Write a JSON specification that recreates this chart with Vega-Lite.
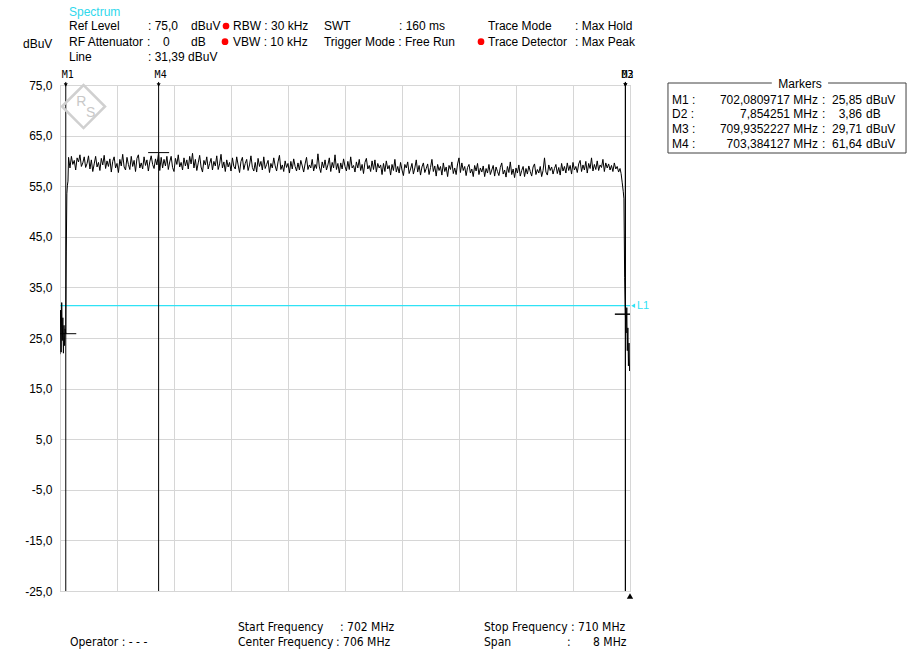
{
  "$schema": "https://vega.github.io/schema/vega-lite/v6.json",
  "width": 570,
  "height": 506,
  "autosize": "none",
  "padding": {"left": 60, "top": 85, "right": 277, "bottom": 59},
  "background": "white",
  "config": {
    "font": "Liberation Sans",
    "view": {"stroke": "#b4b4b4", "strokeWidth": 1},
    "text": {"font": "Liberation Sans", "fontSize": 12, "color": "black", "baseline": "middle"}
  },
  "datasets": {
    "trace": [
      {"f":702.000,"d":21.8},{"f":702.008,"d":30.5},{"f":702.016,"d":22.2},{"f":702.024,"d":32.0},{"f":702.032,"d":24.5},
      {"f":702.040,"d":29.0},{"f":702.048,"d":22.0},{"f":702.056,"d":27.5},{"f":702.064,"d":23.5},{"f":702.072,"d":26.8},
      {"f":702.081,"d":25.85},{"f":702.088,"d":42.0},{"f":702.096,"d":53.5},{"f":702.104,"d":55.2},{"f":702.112,"d":56.0},
      {"f":702.120,"d":60.7},
      {"f":702.14,"d":58.6},{"f":702.16,"d":60.9},{"f":702.18,"d":59.3},{"f":702.20,"d":60.1},{"f":702.22,"d":58.2},{"f":702.24,"d":60.6},{"f":702.26,"d":59.8},{"f":702.28,"d":61.2},{"f":702.30,"d":58.9},{"f":702.32,"d":59.6},
      {"f":702.34,"d":60.8},{"f":702.36,"d":58.7},{"f":702.38,"d":59.5},{"f":702.40,"d":61.0},{"f":702.42,"d":58.4},{"f":702.44,"d":60.2},{"f":702.46,"d":57.9},{"f":702.48,"d":59.4},{"f":702.50,"d":60.9},{"f":702.52,"d":58.8},
      {"f":702.54,"d":59.7},{"f":702.56,"d":58.1},{"f":702.58,"d":60.5},{"f":702.60,"d":59.2},{"f":702.62,"d":61.1},{"f":702.64,"d":58.5},{"f":702.66,"d":60.0},{"f":702.68,"d":58.9},{"f":702.70,"d":60.4},{"f":702.72,"d":57.8},
      {"f":702.74,"d":59.9},{"f":702.76,"d":60.8},{"f":702.78,"d":58.6},{"f":702.80,"d":59.5},{"f":702.82,"d":57.7},{"f":702.84,"d":60.3},{"f":702.86,"d":59.0},{"f":702.88,"d":61.3},{"f":702.90,"d":58.8},{"f":702.92,"d":58.2},
      {"f":702.94,"d":60.7},{"f":702.96,"d":59.3},{"f":702.98,"d":58.3},{"f":703.00,"d":60.9},{"f":703.02,"d":58.9},{"f":703.04,"d":60.1},{"f":703.06,"d":57.9},{"f":703.08,"d":60.5},{"f":703.10,"d":61.2},{"f":703.12,"d":58.6},
      {"f":703.14,"d":59.6},{"f":703.16,"d":58.4},{"f":703.18,"d":60.8},{"f":703.20,"d":59.1},{"f":703.22,"d":60.2},{"f":703.24,"d":58.0},{"f":703.26,"d":59.8},{"f":703.28,"d":61.0},{"f":703.30,"d":59.3},{"f":703.32,"d":58.5},
      {"f":703.34,"d":60.4},{"f":703.36,"d":59.2},{"f":703.384,"d":61.64},{"f":703.40,"d":58.1},{"f":703.42,"d":60.7},{"f":703.44,"d":58.6},{"f":703.46,"d":60.3},{"f":703.48,"d":59.0},{"f":703.50,"d":60.9},{"f":703.52,"d":58.3},
      {"f":703.54,"d":59.8},{"f":703.56,"d":60.9},{"f":703.58,"d":58.7},{"f":703.60,"d":57.9},{"f":703.62,"d":60.5},{"f":703.64,"d":59.3},{"f":703.66,"d":61.2},{"f":703.68,"d":58.8},{"f":703.70,"d":59.7},{"f":703.72,"d":58.2},
      {"f":703.74,"d":60.6},{"f":703.76,"d":59.0},{"f":703.78,"d":60.2},{"f":703.80,"d":58.4},{"f":703.82,"d":60.9},{"f":703.84,"d":59.4},{"f":703.86,"d":61.5},{"f":703.88,"d":58.6},{"f":703.90,"d":60.3},{"f":703.92,"d":58.1},
      {"f":703.94,"d":59.6},{"f":703.96,"d":61.1},{"f":703.98,"d":58.8},{"f":704.00,"d":57.8},{"f":704.02,"d":60.1},{"f":704.04,"d":59.2},{"f":704.06,"d":60.8},{"f":704.08,"d":58.4},{"f":704.10,"d":59.5},{"f":704.12,"d":60.5},
      {"f":704.14,"d":58.2},{"f":704.16,"d":59.9},{"f":704.18,"d":59.0},{"f":704.20,"d":61.0},{"f":704.22,"d":58.3},{"f":704.24,"d":59.4},{"f":704.26,"d":61.3},{"f":704.28,"d":58.6},{"f":704.30,"d":59.8},{"f":704.32,"d":57.9},
      {"f":704.34,"d":60.2},{"f":704.36,"d":58.8},{"f":704.38,"d":59.7},{"f":704.40,"d":58.0},{"f":704.42,"d":60.6},{"f":704.44,"d":58.9},{"f":704.46,"d":58.4},{"f":704.48,"d":60.8},{"f":704.50,"d":59.2},{"f":704.52,"d":57.7},
      {"f":704.54,"d":59.9},{"f":704.56,"d":60.7},{"f":704.58,"d":58.3},{"f":704.60,"d":59.5},{"f":704.62,"d":60.3},{"f":704.64,"d":58.1},{"f":704.66,"d":59.2},{"f":704.68,"d":61.0},{"f":704.70,"d":58.7},{"f":704.72,"d":58.0},
      {"f":704.74,"d":59.7},{"f":704.76,"d":57.8},{"f":704.78,"d":60.5},{"f":704.80,"d":58.9},{"f":704.82,"d":59.9},{"f":704.84,"d":58.2},{"f":704.86,"d":60.8},{"f":704.88,"d":58.5},{"f":704.90,"d":59.3},{"f":704.92,"d":60.1},
      {"f":704.94,"d":57.7},{"f":704.96,"d":59.5},{"f":704.98,"d":58.6},{"f":705.00,"d":60.6},{"f":705.02,"d":59.0},{"f":705.04,"d":58.0},{"f":705.06,"d":59.8},{"f":705.08,"d":61.1},{"f":705.10,"d":58.3},{"f":705.12,"d":59.2},
      {"f":705.14,"d":57.9},{"f":705.16,"d":60.0},{"f":705.18,"d":58.7},{"f":705.20,"d":59.5},{"f":705.22,"d":57.6},{"f":705.24,"d":59.9},{"f":705.26,"d":58.4},{"f":705.28,"d":60.4},{"f":705.30,"d":58.9},{"f":705.32,"d":58.0},
      {"f":705.34,"d":59.6},{"f":705.36,"d":58.2},{"f":705.38,"d":60.1},{"f":705.40,"d":59.0},{"f":705.42,"d":57.8},{"f":705.44,"d":59.4},{"f":705.46,"d":60.7},{"f":705.48,"d":58.3},{"f":705.50,"d":59.2},{"f":705.52,"d":58.6},
      {"f":705.54,"d":60.3},{"f":705.56,"d":58.0},{"f":705.58,"d":59.3},{"f":705.60,"d":58.5},{"f":705.62,"d":61.4},{"f":705.64,"d":58.8},{"f":705.66,"d":57.7},{"f":705.68,"d":59.8},{"f":705.70,"d":58.6},{"f":705.72,"d":60.2},
      {"f":705.74,"d":58.2},{"f":705.76,"d":59.2},{"f":705.78,"d":60.6},{"f":705.80,"d":57.9},{"f":705.82,"d":59.7},{"f":705.84,"d":58.6},{"f":705.86,"d":61.2},{"f":705.88,"d":58.3},{"f":705.90,"d":59.5},{"f":705.92,"d":57.6},
      {"f":705.94,"d":59.6},{"f":705.96,"d":58.4},{"f":705.98,"d":60.4},{"f":706.00,"d":58.9},{"f":706.02,"d":58.0},{"f":706.04,"d":59.9},{"f":706.06,"d":58.3},{"f":706.08,"d":60.8},{"f":706.10,"d":58.6},{"f":706.12,"d":59.1},
      {"f":706.14,"d":57.8},{"f":706.16,"d":59.8},{"f":706.18,"d":58.6},{"f":706.20,"d":60.3},{"f":706.22,"d":58.1},{"f":706.24,"d":59.3},{"f":706.26,"d":57.5},{"f":706.28,"d":59.7},{"f":706.30,"d":60.5},{"f":706.32,"d":58.4},
      {"f":706.34,"d":59.1},{"f":706.36,"d":57.9},{"f":706.38,"d":60.0},{"f":706.40,"d":58.3},{"f":706.42,"d":60.2},{"f":706.44,"d":57.8},{"f":706.46,"d":59.5},{"f":706.48,"d":58.6},{"f":706.50,"d":59.2},{"f":706.52,"d":57.3},
      {"f":706.54,"d":59.5},{"f":706.56,"d":57.9},{"f":706.58,"d":60.0},{"f":706.60,"d":58.4},{"f":706.62,"d":59.1},{"f":706.64,"d":57.2},{"f":706.66,"d":59.3},{"f":706.68,"d":58.1},{"f":706.70,"d":60.3},{"f":706.72,"d":57.8},
      {"f":706.74,"d":58.9},{"f":706.76,"d":57.6},{"f":706.78,"d":59.7},{"f":706.80,"d":58.2},{"f":706.82,"d":57.1},{"f":706.84,"d":59.3},{"f":706.86,"d":58.6},{"f":706.88,"d":59.8},{"f":706.90,"d":57.5},{"f":706.92,"d":58.4},
      {"f":706.94,"d":59.5},{"f":706.96,"d":57.4},{"f":706.98,"d":58.6},{"f":707.00,"d":60.2},{"f":707.02,"d":57.8},{"f":707.04,"d":59.1},{"f":707.06,"d":57.2},{"f":707.08,"d":58.8},{"f":707.10,"d":59.6},{"f":707.12,"d":57.7},
      {"f":707.14,"d":58.5},{"f":707.16,"d":59.4},{"f":707.18,"d":57.3},{"f":707.20,"d":58.7},{"f":707.22,"d":60.3},{"f":707.24,"d":57.9},{"f":707.26,"d":59.0},{"f":707.28,"d":57.0},{"f":707.30,"d":59.3},{"f":707.32,"d":58.1},
      {"f":707.34,"d":58.9},{"f":707.36,"d":57.2},{"f":707.38,"d":59.6},{"f":707.40,"d":57.9},{"f":707.42,"d":58.8},{"f":707.44,"d":56.9},{"f":707.46,"d":59.1},{"f":707.48,"d":58.3},{"f":707.50,"d":59.8},{"f":707.52,"d":57.5},
      {"f":707.54,"d":58.6},{"f":707.56,"d":57.3},{"f":707.58,"d":59.4},{"f":707.60,"d":60.6},{"f":707.62,"d":57.7},{"f":707.64,"d":59.6},{"f":707.66,"d":58.1},{"f":707.68,"d":58.9},{"f":707.70,"d":57.1},{"f":707.72,"d":58.7},
      {"f":707.74,"d":59.3},{"f":707.76,"d":57.6},{"f":707.78,"d":58.4},{"f":707.80,"d":56.9},{"f":707.82,"d":59.1},{"f":707.84,"d":58.0},{"f":707.86,"d":59.5},{"f":707.88,"d":57.3},{"f":707.90,"d":58.6},{"f":707.92,"d":57.8},
      {"f":707.94,"d":59.0},{"f":707.96,"d":56.9},{"f":707.98,"d":58.5},{"f":708.00,"d":57.6},{"f":708.02,"d":59.3},{"f":708.04,"d":57.3},{"f":708.06,"d":58.2},{"f":708.08,"d":59.1},{"f":708.10,"d":57.0},{"f":708.12,"d":58.8},
      {"f":708.14,"d":57.9},{"f":708.16,"d":57.1},{"f":708.18,"d":58.7},{"f":708.20,"d":59.6},{"f":708.22,"d":57.4},{"f":708.24,"d":58.2},{"f":708.26,"d":56.8},{"f":708.28,"d":58.9},{"f":708.30,"d":57.7},{"f":708.32,"d":59.8},
      {"f":708.34,"d":57.3},{"f":708.36,"d":58.4},{"f":708.38,"d":56.7},{"f":708.40,"d":58.6},{"f":708.42,"d":57.6},{"f":708.44,"d":59.2},{"f":708.46,"d":57.0},{"f":708.48,"d":58.1},{"f":708.50,"d":58.9},{"f":708.52,"d":56.9},
      {"f":708.54,"d":58.5},{"f":708.56,"d":57.4},{"f":708.58,"d":59.0},{"f":708.60,"d":57.9},{"f":708.62,"d":57.0},{"f":708.64,"d":58.8},{"f":708.66,"d":59.4},{"f":708.68,"d":57.3},{"f":708.70,"d":58.3},{"f":708.72,"d":57.6},
      {"f":708.74,"d":58.9},{"f":708.76,"d":56.9},{"f":708.78,"d":58.1},{"f":708.80,"d":60.6},{"f":708.82,"d":57.8},{"f":708.84,"d":57.2},{"f":708.86,"d":59.2},{"f":708.88,"d":58.1},{"f":708.90,"d":58.8},{"f":708.92,"d":57.4},
      {"f":708.94,"d":58.5},{"f":708.96,"d":59.3},{"f":708.98,"d":57.5},{"f":709.00,"d":58.7},{"f":709.02,"d":57.2},{"f":709.04,"d":59.5},{"f":709.06,"d":58.0},{"f":709.08,"d":58.9},{"f":709.10,"d":57.6},{"f":709.12,"d":59.6},
      {"f":709.14,"d":58.1},{"f":709.16,"d":59.1},{"f":709.18,"d":57.4},{"f":709.20,"d":59.7},{"f":709.22,"d":58.2},{"f":709.24,"d":58.9},{"f":709.26,"d":57.7},{"f":709.28,"d":59.4},{"f":709.30,"d":60.1},{"f":709.32,"d":57.9},
      {"f":709.34,"d":59.2},{"f":709.36,"d":58.2},{"f":709.38,"d":59.9},{"f":709.40,"d":57.6},{"f":709.42,"d":59.5},{"f":709.44,"d":58.5},{"f":709.46,"d":60.6},{"f":709.48,"d":58.0},{"f":709.50,"d":59.3},{"f":709.52,"d":58.3},
      {"f":709.54,"d":60.0},{"f":709.56,"d":58.1},{"f":709.58,"d":59.2},{"f":709.60,"d":58.7},{"f":709.62,"d":60.3},{"f":709.64,"d":57.9},{"f":709.66,"d":59.6},{"f":709.68,"d":58.6},{"f":709.70,"d":59.4},{"f":709.72,"d":58.2},
      {"f":709.74,"d":59.1},{"f":709.76,"d":57.9},{"f":709.78,"d":59.6},{"f":709.80,"d":58.4},{"f":709.82,"d":58.9},{"f":709.84,"d":57.8},{"f":709.86,"d":58.5},{"f":709.875,"d":57.5},
      {"f":709.89,"d":55.8},{"f":709.905,"d":54.0},{"f":709.915,"d":52.5},{"f":709.925,"d":37.0},{"f":709.935,"d":29.71},
      {"f":709.945,"d":26.0},{"f":709.955,"d":31.0},{"f":709.962,"d":22.5},{"f":709.970,"d":27.0},{"f":709.978,"d":19.5},
      {"f":709.986,"d":24.0},{"f":709.994,"d":18.5},{"f":710.000,"d":19.0}
    ],
    "markers": [
      {"f":702.0809717,"d":25.85,"lab":"M1"},
      {"f":709.9352227,"d":29.71,"lab":"M3"},
      {"f":709.9352227,"d":29.71,"lab":"D2"},
      {"f":703.384127,"d":61.64,"lab":"M4"}
    ],
    "limit": [{"d":31.39}],
    "txtL": [
      {"f":702.126,"d":86.66,"t":"Ref Level"},
      {"f":703.235,"d":86.66,"t":": 75,0"},
      {"f":703.839,"d":86.66,"t":"dBuV"},
      {"f":704.428,"d":86.66,"t":"RBW : 30 kHz"},
      {"f":705.705,"d":86.66,"t":"SWT"},
      {"f":706.758,"d":86.66,"t":": 160 ms"},
      {"f":708.007,"d":86.66,"t":"Trace Mode"},
      {"f":709.228,"d":86.66,"t":": Max Hold"},
      {"f":702.126,"d":83.56,"t":"RF Attenuator"},
      {"f":703.221,"d":83.56,"t":":"},
      {"f":703.446,"d":83.56,"t":"0"},
      {"f":703.839,"d":83.56,"t":"dB"},
      {"f":704.428,"d":83.56,"t":"VBW : 10 kHz"},
      {"f":705.705,"d":83.56,"t":"Trigger Mode : Free Run"},
      {"f":708.007,"d":83.56,"t":"Trace Detector"},
      {"f":709.228,"d":83.56,"t":": Max Peak"},
      {"f":702.126,"d":80.59,"t":"Line"},
      {"f":703.235,"d":80.59,"t":": 31,39 dBuV"},
      {"f":701.481,"d":83.16,"t":"dBuV"},
      {"f":710.589,"d":72.04,"t":"M1 :"},
      {"f":710.589,"d":69.17,"t":"D2 :"},
      {"f":710.589,"d":66.30,"t":"M3 :"},
      {"f":710.589,"d":63.34,"t":"M4 :"},
      {"f":712.695,"d":72.04,"t":":"},
      {"f":712.695,"d":69.17,"t":":"},
      {"f":712.695,"d":66.30,"t":":"},
      {"f":712.695,"d":63.34,"t":":"},
      {"f":713.312,"d":72.04,"t":"dBuV"},
      {"f":713.312,"d":69.17,"t":"dB"},
      {"f":713.312,"d":66.30,"t":"dBuV"},
      {"f":713.312,"d":63.34,"t":"dBuV"}
    ],
    "txtR": [
      {"f":712.639,"d":72.04,"t":"702,0809717 MHz"},
      {"f":712.639,"d":69.17,"t":"7,854251 MHz"},
      {"f":712.639,"d":66.30,"t":"709,9352227 MHz"},
      {"f":712.639,"d":63.34,"t":"703,384127 MHz"},
      {"f":713.256,"d":72.04,"t":"25,85"},
      {"f":713.256,"d":69.17,"t":"3,86"},
      {"f":713.256,"d":66.30,"t":"29,71"},
      {"f":713.256,"d":63.34,"t":"61,64"}
    ],
    "foot": [
      {"f":702.140,"d":-35.08,"t":"Operator : - - -"},
      {"f":704.498,"d":-32.11,"t":"Start Frequency"},
      {"f":705.930,"d":-32.11,"t":": 702 MHz"},
      {"f":704.498,"d":-35.08,"t":"Center Frequency"},
      {"f":705.874,"d":-35.08,"t":": 706 MHz"},
      {"f":707.951,"d":-32.11,"t":"Stop Frequency"},
      {"f":709.172,"d":-32.11,"t":": 710 MHz"},
      {"f":707.951,"d":-35.08,"t":"Span"},
      {"f":709.116,"d":-35.08,"t":":"},
      {"f":709.481,"d":-35.08,"t":"8 MHz"}
    ],
    "dots": [
      {"f":704.330,"d":86.66},
      {"f":704.316,"d":83.56},
      {"f":707.909,"d":83.56}
    ],
    "box": [{"f":710.533,"f2":713.874,"d":75.395,"d2":61.561}],
    "boxgap": [{"f":711.99,"f2":712.78,"d":76.5,"d2":74.3}]
  },
  "layer": [
    {
      "data": {"name": "limit"},
      "mark": {"type": "rule", "color": "#2fe2f5", "strokeWidth": 1.4},
      "encoding": {
        "y": {"field": "d", "type": "quantitative", "scale": {"domain": [-25, 75], "nice": false, "zero": false},
          "axis": {"values": [-25, -15, -5, 5, 15, 25, 35, 45, 55, 65, 75], "labelExpr": "(datum.value < 0 ? '-' : '') + replace(format(abs(datum.value), '.1f'), '.', ',')", "ticks": false, "domain": false, "title": null, "grid": true, "gridColor": "#d6d6d6", "gridWidth": 1, "labelFont": "Liberation Sans", "labelFontSize": 12, "labelColor": "black", "labelPadding": 8}}
      }
    },
    {
      "encoding": {
        "x": {"field": "f", "type": "quantitative", "scale": {"domain": [702, 710], "nice": false, "zero": false},
          "axis": {"values": [702, 702.8, 703.6, 704.4, 705.2, 706, 706.8, 707.6, 708.4, 709.2, 710], "labels": false, "ticks": false, "domain": false, "title": null, "grid": true, "gridColor": "#d6d6d6", "gridWidth": 1}},
        "y": {"field": "d", "type": "quantitative", "scale": {"domain": [-25, 75], "nice": false, "zero": false},
          "axis": {"values": [-25, -15, -5, 5, 15, 25, 35, 45, 55, 65, 75], "labelExpr": "(datum.value < 0 ? '-' : '') + replace(format(abs(datum.value), '.1f'), '.', ',')", "ticks": false, "domain": false, "title": null, "grid": true, "gridColor": "#d6d6d6", "gridWidth": 1, "labelFont": "Liberation Sans", "labelFontSize": 12, "labelColor": "black", "labelPadding": 8}}
      },
      "layer": [
        {
          "data": {"name": "trace"},
          "mark": {"type": "line", "color": "black", "strokeWidth": 1, "clip": true}
        },
        {
          "data": {"name": "markers"},
          "mark": {"type": "rule", "color": "black", "strokeWidth": 1},
          "encoding": {
            "y": {"datum": 75.6, "type": "quantitative", "scale": {"domain": [-25, 75], "nice": false, "zero": false},
              "axis": {"values": [-25, -15, -5, 5, 15, 25, 35, 45, 55, 65, 75], "labelExpr": "(datum.value < 0 ? '-' : '') + replace(format(abs(datum.value), '.1f'), '.', ',')", "ticks": false, "domain": false, "title": null, "grid": true, "gridColor": "#d6d6d6", "gridWidth": 1, "labelFont": "Liberation Sans", "labelFontSize": 12, "labelColor": "black", "labelPadding": 8}},
            "y2": {"datum": -25}
          }
        },
        {
          "data": {"name": "markers"},
          "mark": {"type": "tick", "orient": "horizontal", "size": 21, "thickness": 1, "color": "black", "clip": true, "opacity": 1}
        },
        {
          "data": {"name": "markers"},
          "mark": {"type": "text", "align": "left", "dx": -4, "dy": -10, "fontSize": 10, "font": "DejaVu Sans Mono"},
          "encoding": {
            "y": {"datum": 75, "type": "quantitative", "scale": {"domain": [-25, 75], "nice": false, "zero": false},
              "axis": {"values": [-25, -15, -5, 5, 15, 25, 35, 45, 55, 65, 75], "labelExpr": "(datum.value < 0 ? '-' : '') + replace(format(abs(datum.value), '.1f'), '.', ',')", "ticks": false, "domain": false, "title": null, "grid": true, "gridColor": "#d6d6d6", "gridWidth": 1, "labelFont": "Liberation Sans", "labelFontSize": 12, "labelColor": "black", "labelPadding": 8}},
            "text": {"field": "lab"}
          }
        },
        {
          "data": {"name": "markers"},
          "mark": {"type": "point", "shape": "triangle-down", "filled": true, "color": "black", "size": 16, "opacity": 1, "dy": -5},
          "encoding": {
            "y": {"datum": 75, "type": "quantitative", "scale": {"domain": [-25, 75], "nice": false, "zero": false},
              "axis": {"values": [-25, -15, -5, 5, 15, 25, 35, 45, 55, 65, 75], "labelExpr": "(datum.value < 0 ? '-' : '') + replace(format(abs(datum.value), '.1f'), '.', ',')", "ticks": false, "domain": false, "title": null, "grid": true, "gridColor": "#d6d6d6", "gridWidth": 1, "labelFont": "Liberation Sans", "labelFontSize": 12, "labelColor": "black", "labelPadding": 8}}
          }
        },
        {
          "data": {"values": [{"f": 702.330, "d": 70.75}]},
          "mark": {"type": "point", "shape": "diamond", "filled": false, "stroke": "#d0d0d0", "strokeWidth": 2.5, "size": 1850, "opacity": 1}
        },
        {
          "data": {"values": [{"f": 702.300, "d": 71.7, "t": "R"}, {"f": 702.430, "d": 69.4, "t": "S"}]},
          "mark": {"type": "text", "align": "center", "fontSize": 14, "color": "#c8c8c8"},
          "encoding": {"text": {"field": "t"}}
        },
        {
          "data": {"values": [{"f": 702.126, "d": 89.43, "t": "Spectrum"}]},
          "mark": {"type": "text", "align": "left", "color": "#30d8ec"},
          "encoding": {"text": {"field": "t"}}
        },
        {
          "data": {"name": "dots"},
          "mark": {"type": "point", "shape": "circle", "filled": true, "color": "#ff0000", "size": 45, "opacity": 1}
        },
        {
          "data": {"name": "box"},
          "mark": {"type": "rect", "fill": null, "fillOpacity": 0, "stroke": "#404040", "strokeWidth": 1},
          "encoding": {"x2": {"field": "f2"}, "y2": {"field": "d2"}}
        },
        {
          "data": {"name": "boxgap"},
          "mark": {"type": "rect", "fill": "white", "stroke": null},
          "encoding": {"x2": {"field": "f2"}, "y2": {"field": "d2"}}
        },
        {
          "data": {"values": [{"f": 712.386, "d": 75.2, "t": "Markers"}]},
          "mark": {"type": "text", "align": "center"},
          "encoding": {"text": {"field": "t"}}
        },
        {
          "data": {"name": "txtL"},
          "mark": {"type": "text", "align": "left"},
          "encoding": {"text": {"field": "t"}}
        },
        {
          "data": {"name": "txtR"},
          "mark": {"type": "text", "align": "right"},
          "encoding": {"text": {"field": "t"}}
        },
        {
          "data": {"name": "foot"},
          "mark": {"type": "text", "align": "left", "font": "DejaVu Sans Condensed, Liberation Sans", "fontSize": 12},
          "encoding": {"text": {"field": "t"}}
        },
        {
          "data": {"values": [{"f": 710, "d": -26.0}]},
          "mark": {"type": "point", "shape": "triangle-up", "filled": true, "color": "black", "size": 40, "opacity": 1}
        },
        {
          "data": {"values": [{"f": 710.045, "d": 31.39}]},
          "mark": {"type": "point", "shape": "triangle-left", "filled": true, "color": "#2fe2f5", "size": 20, "opacity": 1}
        },
        {
          "data": {"values": [{"f": 710.098, "d": 31.39, "t": "L1"}]},
          "mark": {"type": "text", "align": "left", "color": "#2fe2f5", "fontSize": 11},
          "encoding": {"text": {"field": "t"}}
        }
      ]
    }
  ]
}
